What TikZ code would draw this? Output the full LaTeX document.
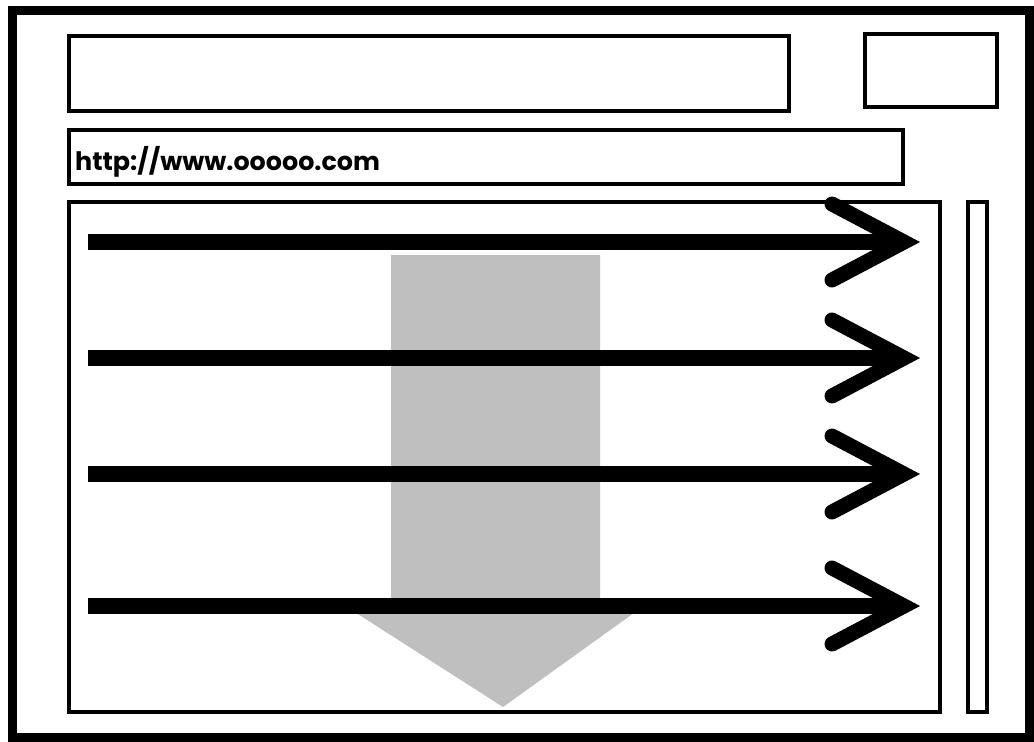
\documentclass[tikz,border=0pt]{standalone}
\usepackage{fontspec}
\newfontfamily\urlfont{Poppins}
\begin{document}
\begin{tikzpicture}[x=1pt,y=-1pt,
  frame/.style={draw=black,line width=9pt},
  box/.style={draw=black,line width=4.5pt},
  flow/.style={draw=black,line width=16pt},
  chev/.style={draw=black,line width=15pt,line cap=round,line join=miter},
  downarrow/.style={fill=black!25,draw=none}]
\useasboundingbox (0,0) rectangle (1034,742);
\fill[white] (0,0) rectangle (1034,742);
% outer window
\draw[frame] (12,10) rectangle (1029,737);
% title bar and small box
\draw[box] (69,36) rectangle (789,111);
\draw[box] (865,34) rectangle (997,107);
% url bar
\draw[box] (69,130) rectangle (903,184);
\node[anchor=base west,inner sep=0pt,font=\urlfont\bfseries\fontsize{25.4}{30}\selectfont] (url) at (75,170) {http://www.ooooo.com};
% content and scrollbar
\draw[box] (69,202) rectangle (940,712);
\draw[box] (968,202) rectangle (987,712);
% grey down arrow
\fill[downarrow] (391,255) -- (600,255) -- (600,600) -- (652,600) -- (503,707) -- (336,600) -- (391,600) -- cycle;
% black reading arrows
\foreach \y/\n in {242/a,358/b,474/c,606/d}{
  \coordinate (s\n) at (88,\y);
  \coordinate (t\n) at (904,\y);
  \coordinate (u\n) at (832,\y-38);
  \coordinate (l\n) at (832,\y+38);
  \draw[flow] (s\n) -- (t\n);
  \draw[chev] (u\n) -- (t\n) -- (l\n);
}
\end{tikzpicture}
\end{document}
